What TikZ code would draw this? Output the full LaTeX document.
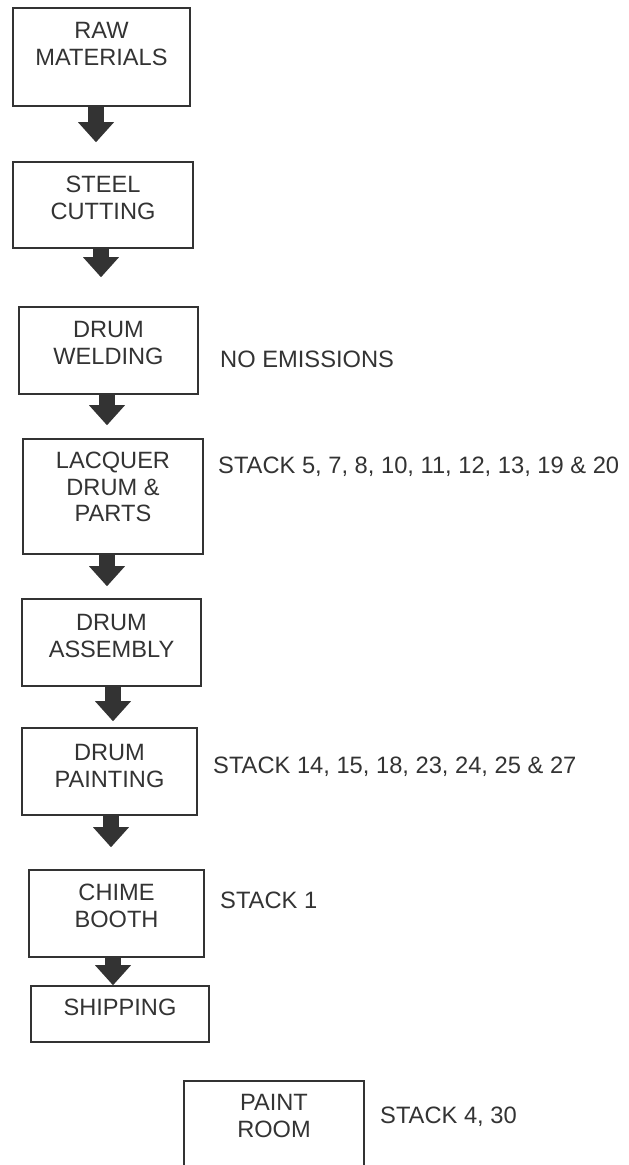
\documentclass[tikz,border=0pt]{standalone}
\usepackage{fontspec}
\setmainfont{Liberation Sans}
\usetikzlibrary{calc, positioning, arrows.meta}

\colorlet{ink}{black!80}

\begin{document}
\begin{tikzpicture}[
  x=1pt, y=-1pt,
  stage/.style={draw=ink, line width=1.6pt, inner sep=0pt},
  stagetext/.style={font=\fontsize{23.6}{26.5}\selectfont, text=ink, align=center, inner sep=0pt},
  note/.style={font=\fontsize{23.7}{26.5}\selectfont, text=ink, inner sep=0pt, anchor=base west},
  flow/.style={draw=ink, line width=16pt, -{Triangle[width=36pt, length=20pt, line width=0pt]}}
]
\useasboundingbox (0,0) rectangle (629,1165);
\clip (0,0) rectangle (629,1165);

% Process boxes
\node[stage, minimum width=177pt, minimum height=98pt] (raw) at (101.5,57) {};
\node[stage, minimum width=180pt, minimum height=86pt] (steel) at (103,205) {};
\node[stage, minimum width=179pt, minimum height=87pt] (weld) at (108.5,350.5) {};
\node[stage, minimum width=180pt, minimum height=115pt] (lacq) at (113,496.5) {};
\node[stage, minimum width=179pt, minimum height=87pt] (assem) at (111.5,642.5) {};
\node[stage, minimum width=175pt, minimum height=87pt] (paint) at (109.5,771.5) {};
\node[stage, minimum width=175pt, minimum height=87pt] (chime) at (116.5,913.5) {};
\node[stage, minimum width=178pt, minimum height=56pt] (ship) at (120,1014) {};
\node[stage, minimum width=180pt, minimum height=87pt] (room) at (274,1124.5) {};

% Box texts
\node[stagetext, below=15pt of raw.north] (rawtext) {RAW\\MATERIALS};
\node[stagetext, below=15pt of steel.north] (steeltext) {STEEL\\CUTTING};
\node[stagetext, below=15pt of weld.north] (weldtext) {DRUM\\WELDING};
\node[stagetext, below=14pt of lacq.north] (lacqtext) {LACQUER\\DRUM \&\\PARTS};
\node[stagetext, below=16pt of assem.north] (assemtext) {DRUM\\ASSEMBLY};
\node[stagetext, below=17pt of paint.north] (painttext) {DRUM\\PAINTING};
\node[stagetext, below=15pt of chime.north] (chimetext) {CHIME\\BOOTH};
\node[stagetext, below=14pt of ship.north] (shiptext) {SHIPPING};
\node[stagetext, below=14pt of room.north] (roomtext) {PAINT\\ROOM};

% Emission notes
\node[note] (weldnote) at (220,367) {NO EMISSIONS};
\node[note] (lacqnote) at (218,473) {STACK 5, 7, 8, 10, 11, 12, 13, 19 \& 20};
\node[note] (paintnote) at (213,773) {STACK 14, 15, 18, 23, 24, 25 \& 27};
\node[note] (chimenote) at (220,908) {STACK 1};
\node[note] (roomnote) at (380,1123) {STACK 4, 30};

% Flow arrows
\draw[flow, shorten >=19pt] ([xshift=-5.5pt]raw.south) -- ($(raw.south |- steel.north)+(-5.5,0)$);
\draw[flow, shorten >=29pt] ([xshift=-2pt]steel.south) -- ($(steel.south |- weld.north)+(-2,0)$);
\draw[flow, shorten >=13pt] ([xshift=-1.5pt]weld.south) -- ($(weld.south |- lacq.north)+(-1.5,0)$);
\draw[flow, shorten >=12pt] ([xshift=-6pt]lacq.south) -- ($(lacq.south |- assem.north)+(-6,0)$);
\draw[flow, shorten >=6pt] ([xshift=1.5pt]assem.south) -- ($(assem.south |- paint.north)+(1.5,0)$);
\draw[flow, shorten >=22pt] ([xshift=1.5pt]paint.south) -- ($(paint.south |- chime.north)+(1.5,0)$);
\draw[flow] ([xshift=-3.5pt]chime.south) -- ($(chime.south |- ship.north)+(-3.5,0)$);

\end{tikzpicture}
\end{document}
